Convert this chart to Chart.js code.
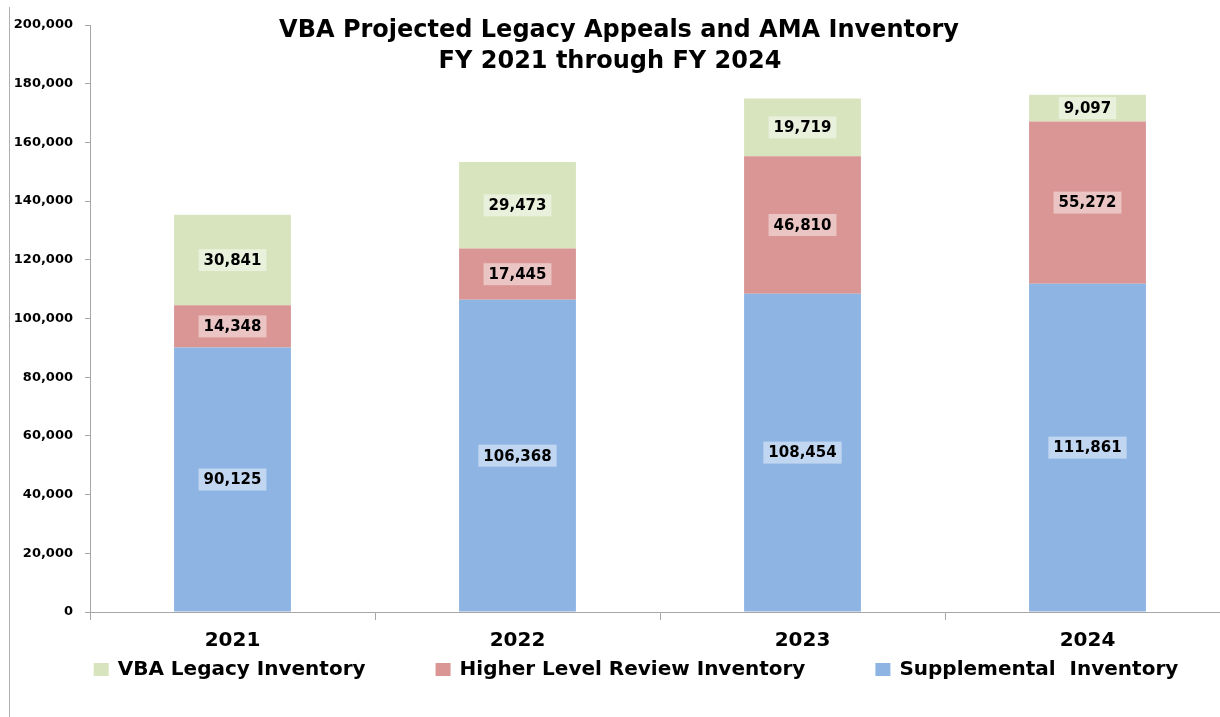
<!DOCTYPE html>
<html>
<head>
<meta charset="utf-8">
<title>VBA Projected Legacy Appeals and AMA Inventory</title>
<script src="https://cdn.jsdelivr.net/npm/chart.js@4.4.1/dist/chart.umd.min.js"></script>
<style>
  html, body { margin: 0; padding: 0; background: #fff; overflow: hidden; }
  #wrap { position: relative; width: 1232px; height: 717px; }
</style>
</head>
<body>
<div id="wrap"><canvas id="myChart"></canvas></div>
<script>
// chart data
const years = ['2021', '2022', '2023', '2024'];
const supplemental = [90125, 106368, 108454, 111861];
const higherLevelReview = [14348, 17445, 46810, 55272];
const vbaLegacy = [30841, 29473, 19719, 9097];
const seriesNames = ['Supplemental  Inventory', 'Higher Level Review Inventory', 'VBA Legacy Inventory'];
const titleLines = ['VBA Projected Legacy Appeals and AMA Inventory', 'FY 2021 through FY 2024'];

const FONT = "'DejaVu Sans', sans-serif";
const AXIS_GREY = '#a6a6a6';
const fmt = v => Number(v).toLocaleString('en-US');

Chart.defaults.font.family = FONT;

// value labels on each segment, with a light box behind
const segmentLabels = {
  id: 'segmentLabels',
  afterDatasetsDraw(chart) {
    const ctx = chart.ctx;
    ctx.save();
    ctx.font = 'bold 15px ' + FONT;
    ctx.textAlign = 'center';
    ctx.textBaseline = 'middle';
    chart.data.datasets.forEach((ds, i) => {
      const meta = chart.getDatasetMeta(i);
      meta.data.forEach((bar, j) => {
        const txt = fmt(ds.data[j]);
        const cy = (bar.y + bar.base) / 2;
        const w = ctx.measureText(txt).width + 10;
        const h = 22;
        ctx.fillStyle = 'rgba(255,255,255,0.45)';
        ctx.fillRect(bar.x - w / 2, cy - h / 2, w, h);
        ctx.fillStyle = '#000';
        ctx.fillText(txt, bar.x, cy + 1);
      });
    });
    ctx.restore();
  }
};

// title inside the plot, bottom legend and left frame line
const chrome = {
  id: 'chrome',
  afterDraw(chart) {
    const ctx = chart.ctx;
    ctx.save();

    ctx.strokeStyle = '#b0b0b0';
    ctx.lineWidth = 1;
    ctx.beginPath();
    ctx.moveTo(9.5, 7);
    ctx.lineTo(9.5, 717);
    ctx.stroke();

    ctx.fillStyle = '#000';
    ctx.font = 'bold 24px ' + FONT;
    ctx.textAlign = 'center';
    ctx.textBaseline = 'middle';
    ctx.fillText(titleLines[0], 619, 31);
    ctx.fillText(titleLines[1], 610, 62);

    // legend, top series first
    ctx.font = 'bold 20px ' + FONT;
    ctx.textAlign = 'left';
    const items = chart.data.datasets.slice().reverse();
    const box = 15, gap = 9, spacing = 70;
    const widths = items.map(d => box + gap + ctx.measureText(d.label).width);
    const total = widths.reduce((a, b) => a + b, 0) + spacing * (items.length - 1);
    let x = 636 - total / 2;
    const y = 670;
    items.forEach((d, i) => {
      ctx.fillStyle = d.backgroundColor;
      ctx.fillRect(x, y - 7, box, 13);
      ctx.fillStyle = '#000';
      ctx.fillText(d.label, x + box + gap, y);
      x += widths[i] + spacing;
    });
    ctx.restore();
  }
};

const ctx = document.getElementById('myChart').getContext('2d');
new Chart(ctx, {
  type: 'bar',
  data: {
    labels: years,
    datasets: [
      { label: seriesNames[0], data: supplemental, backgroundColor: '#8eb4e3' },
      { label: seriesNames[1], data: higherLevelReview, backgroundColor: '#d99694' },
      { label: seriesNames[2], data: vbaLegacy, backgroundColor: '#d7e4bd' }
    ]
  },
  options: {
    responsive: true,
    maintainAspectRatio: false,
    animation: false,
    datasets: { bar: { barPercentage: 0.41, categoryPercentage: 1 } },
    layout: { padding: { top: 25, right: 2, bottom: 55, left: 0 } },
    plugins: {
      legend: { display: false },
      title: { display: false },
      tooltip: { enabled: false }
    },
    scales: {
      x: {
        stacked: true,
        grid: { display: true, drawOnChartArea: false, drawTicks: true, tickLength: 8, color: AXIS_GREY, offset: true },
        border: { color: AXIS_GREY },
        ticks: { color: '#000', font: { size: 20, weight: 'bold' }, padding: 9 }
      },
      y: {
        stacked: true,
        min: 0,
        max: 200000,
        afterFit: s => { s.width = 90; },
        grid: { display: true, drawOnChartArea: false, drawTicks: true, tickLength: 5, color: AXIS_GREY },
        border: { color: AXIS_GREY },
        ticks: { stepSize: 20000, color: '#000', font: { size: 13, weight: 'bold' }, padding: 12, callback: v => fmt(v) }
      }
    }
  },
  plugins: [segmentLabels, chrome]
});
</script>
</body>
</html>
